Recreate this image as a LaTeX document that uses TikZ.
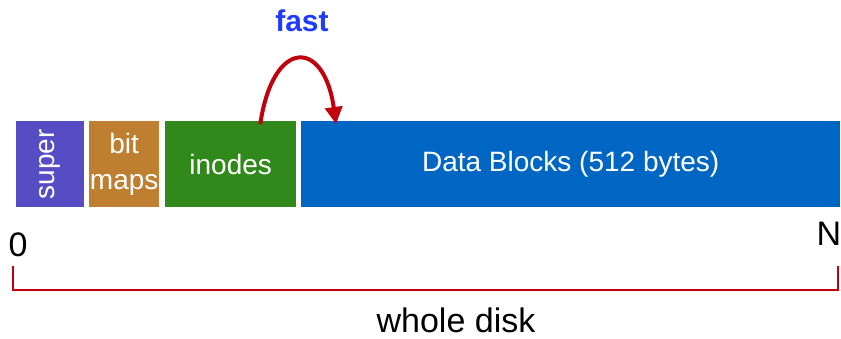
\documentclass[tikz,border=0pt]{standalone}
\usepackage{fontspec}
\setmainfont{Liberation Sans}
\usetikzlibrary{calc,arrows.meta}
\definecolor{csuper}{RGB}{88,76,196}
\definecolor{cbits}{RGB}{190,128,48}
\definecolor{cinodes}{RGB}{49,137,27}
\definecolor{cdata}{RGB}{0,102,196}
\definecolor{cred}{RGB}{192,0,12}
\definecolor{cfast}{RGB}{30,60,255}
\tikzset{
  seg/.style={rectangle, inner sep=0pt, anchor=north west, minimum height=86pt,
    text=white, font=\fontsize{28}{29}\selectfont, align=center},
  lbl/.style={inner sep=0pt, font=\fontsize{34}{36}\selectfont}
}
\begin{document}
\begin{tikzpicture}[x=1pt,y=-1pt]
\useasboundingbox (0,0) rectangle (841,338);
\node[seg, fill=csuper, minimum width=68pt] (super) at (16,121) {};
\node[rotate=90, text=white, font=\fontsize{28}{29}\selectfont] at (super.center) {super};
\node[seg, fill=cbits, minimum width=70pt] (bits) at (89,121) {bit\\[7pt]maps};
\node[seg, fill=cinodes, minimum width=131pt] (inodes) at (165,121) {inodes};
\node[seg, fill=cdata, minimum width=539pt] (data) at (301,121) {Data Blocks (512 bytes)};
\node[inner sep=0pt, text=cfast, font=\bfseries\fontsize{30}{32}\selectfont] (fast) at (302,21) {fast};
\coordinate (arcS) at ($(inodes.north west)!0.725!(inodes.north east)+(0,3)$);
\coordinate (arcE) at ($(data.north west)!0.065!(data.north east)+(0,3)$);
\draw[cred, line width=4pt, -{Triangle[length=17pt,width=17pt]}]
  (arcS) .. controls (273,38) and (324,38) .. (arcE);
\node[lbl] (zero) at (18,245) {0};
\node[lbl] (en) at (829,234) {N};
\coordinate (bl) at (13,266);
\coordinate (br) at (838,266);
\draw[cred, line width=2.5pt] (bl) -- ++(0,24) -| (br);
\node[lbl] (whole) at (456,320) {whole disk};
\end{tikzpicture}
\end{document}
